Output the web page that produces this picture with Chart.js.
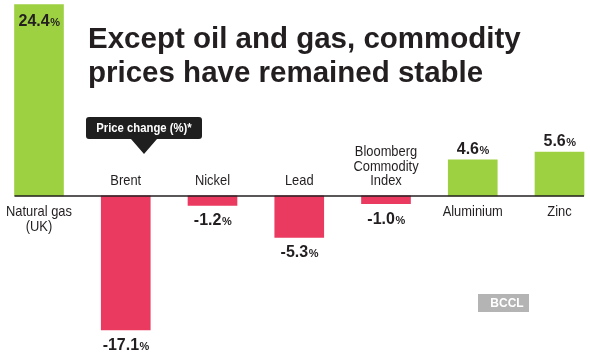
<!DOCTYPE html>
<html>
<head>
<meta charset="utf-8">
<script src="https://cdn.jsdelivr.net/npm/chart.js@4.4.1/dist/chart.umd.min.js"></script>
<style>
  html, body { margin: 0; padding: 0; background: #ffffff; }
  #wrap { width: 590px; height: 355px; position: relative; }
  canvas { display: block; }
</style>
</head>
<body>
<div id="wrap"><canvas id="c" width="590" height="355"></canvas></div>
<script>
// ---- data ----
const categories = ['Natural gas (UK)', 'Brent', 'Nickel', 'Lead', 'Bloomberg Commodity Index', 'Aluminium', 'Zinc'];
const categoryLines = [['Natural gas', '(UK)'], ['Brent'], ['Nickel'], ['Lead'], ['Bloomberg', 'Commodity', 'Index'], ['Aluminium'], ['Zinc']];
const priceChange = [24.4, -17.1, -1.2, -5.3, -1.0, 4.6, 5.6];
const valueLabels = ['24.4', '-17.1', '-1.2', '-5.3', '-1.0', '4.6', '5.6'];
const titleLines = ['Except oil and gas, commodity', 'prices have remained stable'];
const calloutText = 'Price change (%)*';
const sourceText = 'BCCL';

const GREEN = '#9ed142';
const RED = '#eb3a60';
const INK = '#231f20';
const FONT = '"Liberation Sans", Arial, sans-serif';

function scaledText(ctx, text, x, y, font, sx, align) {
  ctx.save();
  ctx.font = font;
  ctx.textAlign = align || 'center';
  ctx.translate(x, y);
  ctx.scale(sx, 1);
  ctx.fillText(text, 0, 0);
  ctx.restore();
}

function valueText(ctx, num, cx, cy) {
  const f1 = 'bold 16px ' + FONT;
  const f2 = 'bold 11px ' + FONT;
  ctx.save();
  ctx.fillStyle = INK;
  ctx.textBaseline = 'alphabetic';
  ctx.font = f1; const w1 = ctx.measureText(num).width;
  ctx.font = f2; const w2 = ctx.measureText('%').width;
  const x0 = cx - (w1 + w2) / 2;
  const base = cy + 6;
  ctx.textAlign = 'left';
  ctx.font = f1; ctx.fillText(num, x0, base);
  ctx.font = f2; ctx.fillText('%', x0 + w1 + 0.5, base);
  ctx.restore();
}

const labelPlugin = {
  id: 'labels',
  afterDraw(chart) {
    const ctx = chart.ctx;
    const xs = chart.scales.x, ys = chart.scales.y;
    const y0 = ys.getPixelForValue(0);
    const meta = chart.getDatasetMeta(0);
    const half = meta.data[0].width / 2;

    // baseline
    ctx.save();
    ctx.strokeStyle = INK;
    ctx.lineWidth = 1.5;
    ctx.beginPath();
    ctx.moveTo(xs.getPixelForValue(0) - half, y0);
    ctx.lineTo(xs.getPixelForValue(priceChange.length - 1) + half, y0);
    ctx.stroke();
    ctx.restore();

    // category labels and values
    ctx.save();
    ctx.fillStyle = INK;
    ctx.textBaseline = 'middle';
    priceChange.forEach((v, i) => {
      const cx = xs.getPixelForValue(i);
      const yv = ys.getPixelForValue(v);
      const lines = categoryLines[i];
      const lh = 14.5;
      if (v < 0) {
        lines.forEach((t, k) => {
          const cy = y0 - 15 - (lines.length - 1 - k) * lh;
          scaledText(ctx, t, cx, cy, '15px ' + FONT, 0.86);
        });
        valueText(ctx, valueLabels[i], cx, yv + 14);
      } else {
        lines.forEach((t, k) => {
          const cy = y0 + 16 + k * lh;
          scaledText(ctx, t, cx, cy, '15px ' + FONT, 0.86);
        });
        if (i === 0) valueText(ctx, valueLabels[i], cx, yv + 15);
        else valueText(ctx, valueLabels[i], cx, yv - 12);
      }
    });
    ctx.restore();

    // title
    ctx.save();
    ctx.fillStyle = INK;
    ctx.textBaseline = 'alphabetic';
    ctx.font = 'bold 29.5px ' + FONT;
    ctx.textAlign = 'left';
    ctx.fillText(titleLines[0], 88, 48);
    ctx.fillText(titleLines[1], 88, 82);
    ctx.restore();

    // callout
    ctx.save();
    ctx.fillStyle = '#1f1f1f';
    const bx = 86, by = 117, bw = 116, bh = 22, r = 3;
    ctx.beginPath();
    ctx.moveTo(bx + r, by);
    ctx.lineTo(bx + bw - r, by); ctx.quadraticCurveTo(bx + bw, by, bx + bw, by + r);
    ctx.lineTo(bx + bw, by + bh - r); ctx.quadraticCurveTo(bx + bw, by + bh, bx + bw - r, by + bh);
    ctx.lineTo(157, by + bh); ctx.lineTo(144, 154); ctx.lineTo(131, by + bh);
    ctx.lineTo(bx + r, by + bh); ctx.quadraticCurveTo(bx, by + bh, bx, by + bh - r);
    ctx.lineTo(bx, by + r); ctx.quadraticCurveTo(bx, by, bx + r, by);
    ctx.closePath();
    ctx.fill();
    ctx.fillStyle = '#ffffff';
    ctx.textBaseline = 'middle';
    scaledText(ctx, calloutText, 144, 128.5, 'bold 13px ' + FONT, 0.87);
    ctx.restore();

    // source tag
    ctx.save();
    ctx.fillStyle = '#b4b4b4';
    ctx.fillRect(478, 294, 51, 18);
    ctx.fillStyle = '#ffffff';
    ctx.textBaseline = 'middle';
    scaledText(ctx, sourceText, 507, 303.5, 'bold 12px ' + FONT, 1);
    ctx.restore();
  }
};

new Chart(document.getElementById('c'), {
  type: 'bar',
  data: {
    labels: categories,
    datasets: [{
      data: priceChange,
      backgroundColor: priceChange.map(v => v >= 0 ? GREEN : RED),
      barThickness: 49,
      borderWidth: 0,
      clip: false
    }]
  },
  options: {
    responsive: false,
    animation: false,
    devicePixelRatio: 1,
    layout: { padding: { left: 39, right: 30.5, top: 0, bottom: 2.3 } },
    scales: {
      x: { display: false, offset: false },
      y: { display: false, min: -20, max: 25 }
    },
    plugins: { legend: { display: false }, tooltip: { enabled: false } }
  },
  plugins: [labelPlugin]
});
</script>
</body>
</html>
